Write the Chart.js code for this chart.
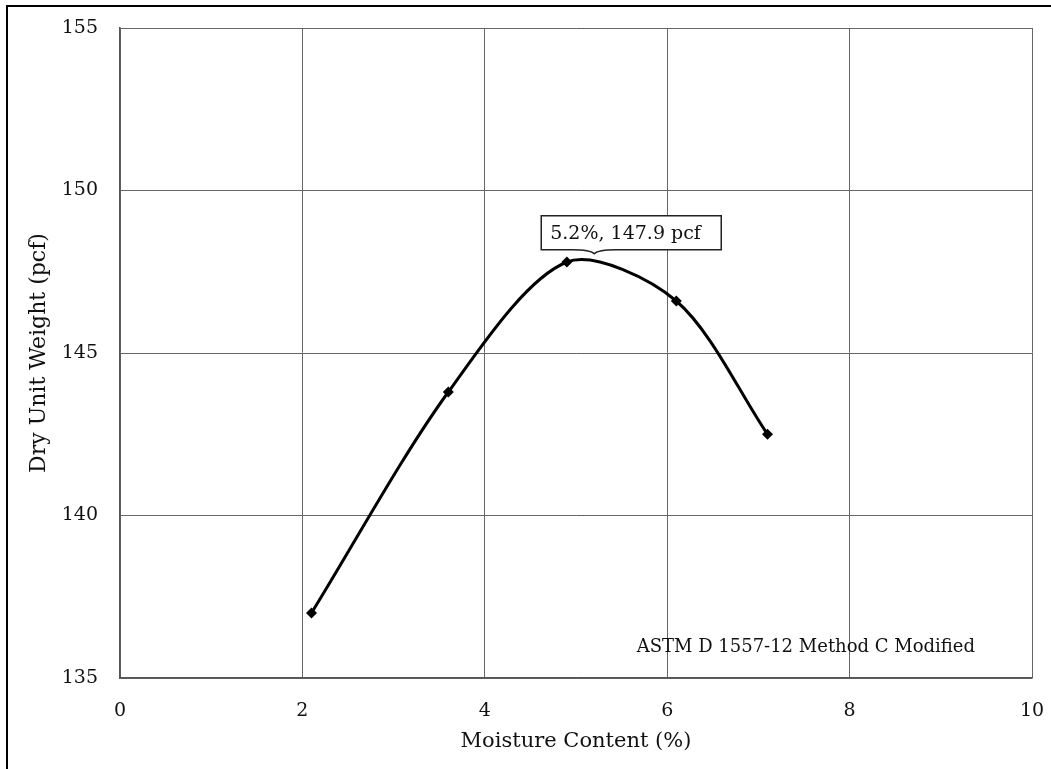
<!DOCTYPE html>
<html>
<head>
<meta charset="utf-8">
<script src="https://cdn.jsdelivr.net/npm/chart.js@4"></script>
<style>
  html, body { margin: 0; padding: 0; background: #fff; }
  #wrap { width: 1051px; height: 769px; position: relative; }
</style>
</head>
<body>
<div id="wrap"><canvas id="chart"></canvas></div>
<script>
// Proctor curve data
const moisture = [2.1, 3.6, 4.9, 6.1, 7.1];
const dryWeight = [137.0, 143.8, 147.8, 146.6, 142.5];

// Peak callout
const peakMoisture = [5.2];
const peakWeight = [147.9];
const noteText = ['ASTM D 1557-12 Method C Modified'];

const serif = "'DejaVu Serif', serif";

// Outer frame, callout box and method note
const extras = {
  id: 'extras',
  beforeDraw(chart) {
    const ctx = chart.ctx;
    ctx.save();
    ctx.strokeStyle = '#000';
    ctx.lineWidth = 2;
    ctx.beginPath();
    ctx.moveTo(7, 769);
    ctx.lineTo(7, 6);
    ctx.lineTo(1051, 6);
    ctx.stroke();
    ctx.restore();
  },
  afterDraw(chart) {
    const ctx = chart.ctx;
    const xs = chart.scales.x;
    const ys = chart.scales.y;
    const tipX = xs.getPixelForValue(peakMoisture[0]);
    const tipY = ys.getPixelForValue(peakWeight[0]) - 5;
    const left = tipX - 53, right = tipX + 127;
    const bottom = tipY - 4, top = bottom - 34;

    ctx.save();
    ctx.fillStyle = '#fff';
    ctx.strokeStyle = '#222';
    ctx.lineWidth = 1.5;
    ctx.beginPath();
    ctx.moveTo(left, top);
    ctx.lineTo(right, top);
    ctx.lineTo(right, bottom);
    ctx.lineTo(tipX + 22, bottom);
    ctx.quadraticCurveTo(tipX + 4, bottom, tipX, tipY);
    ctx.quadraticCurveTo(tipX - 4, bottom, tipX - 22, bottom);
    ctx.lineTo(left, bottom);
    ctx.closePath();
    ctx.fill();
    ctx.stroke();

    ctx.fillStyle = '#111';
    ctx.font = '19px ' + serif;
    ctx.textBaseline = 'middle';
    ctx.textAlign = 'left';
    ctx.fillText(peakMoisture[0] + '%, ' + peakWeight[0] + ' pcf', left + 9, (top + bottom) / 2 + 1);

    ctx.font = '18px ' + serif;
    ctx.textAlign = 'center';
    ctx.fillText(noteText[0], xs.getPixelForValue(7.52), ys.getPixelForValue(135.95));
    ctx.restore();
  }
};

const ctx = document.getElementById('chart').getContext('2d');
const chart = new Chart(ctx, {
  type: 'scatter',
  data: {
    datasets: [{
      data: moisture.map((m, i) => ({ x: m, y: dryWeight[i] })),
      showLine: true,
      borderColor: '#000',
      backgroundColor: '#000',
      borderWidth: 3,
      tension: 0.3,
      pointStyle: 'rectRot',
      pointRadius: 5.5,
      pointBorderWidth: 0
    }]
  },
  options: {
    responsive: true,
    maintainAspectRatio: false,
    animation: false,
    layout: { padding: { left: 0, right: 19, top: 28, bottom: 0 } },
    plugins: {
      legend: { display: false },
      tooltip: { enabled: false }
    },
    scales: {
      x: {
        type: 'linear',
        min: 0,
        max: 10,
        ticks: { stepSize: 2, color: '#111', font: { family: serif, size: 19 }, padding: 22 },
        grid: { color: '#666', drawTicks: false },
        border: { color: '#555', width: 1.5 },
        title: { display: true, text: 'Moisture Content (%)', color: '#111', font: { family: serif, size: 21 }, padding: { top: 0, bottom: 15 } },
        afterFit(scale) {
          scale.height = 91;
          scale.paddingLeft = 0;
          scale.paddingRight = 0;
        }
      },
      y: {
        min: 135,
        max: 155,
        ticks: { stepSize: 5, color: '#111', font: { family: serif, size: 19 }, padding: 22 },
        grid: { color: '#666', drawTicks: false },
        border: { color: '#555', width: 1.5 },
        title: { display: true, text: 'Dry Unit Weight (pcf)', color: '#111', font: { family: serif, size: 22 }, padding: { top: 26 } },
        afterFit(scale) {
          scale.width = 120;
          scale.paddingTop = 0;
          scale.paddingBottom = 0;
        }
      }
    }
  },
  plugins: [extras]
});
</script>
</body>
</html>
